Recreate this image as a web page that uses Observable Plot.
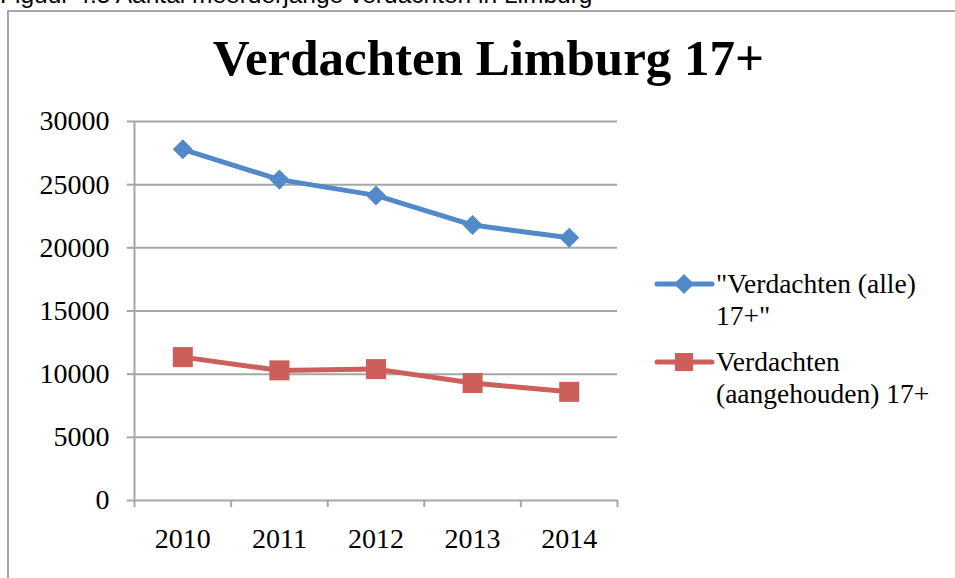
<!DOCTYPE html>
<html>
<head>
<meta charset="utf-8">
<script src="https://cdn.jsdelivr.net/npm/d3@7"></script>
<script src="https://cdn.jsdelivr.net/npm/@observablehq/plot@0.6"></script>
<style>
  html, body { margin: 0; padding: 0; background: #fff; overflow: hidden; }
  #wrap { position: relative; width: 955px; height: 578px; overflow: hidden; font-family: "Liberation Serif", serif; }
  #caption { position: absolute; left: 0; top: -19px; font-family: "Liberation Sans", sans-serif; font-size: 24.5px; color: #000; white-space: nowrap; }
  #frame { position: absolute; left: 7px; top: 10px; width: 1200px; height: 1200px; border: 2px solid #a6a6a6; box-sizing: border-box; }
  #title { position: absolute; left: 0; width: 977px; top: 29px; text-align: center; font-weight: bold; font-size: 51px; color: #000; white-space: nowrap; }
  #chart { position: absolute; left: 0; top: 0; }
  .leg { position: absolute; left: 655px; font-size: 27.5px; line-height: 32px; color: #000; }
  .leg svg { position: absolute; left: 0; top: 0; overflow: visible; }
  .leg div { position: absolute; left: 61px; top: 0; white-space: nowrap; }
</style>
</head>
<body>
<div id="wrap">
  <div id="caption">Figuur 4.5 Aantal meerderjarige verdachten in Limburg</div>
  <div id="frame"></div>
  <div id="chart"></div>
  <div id="title">Verdachten Limburg 17+</div>
  <div id="legend"></div>
</div>
<script>
const years = [2010, 2011, 2012, 2013, 2014];
const yearLabels = ["2010", "2011", "2012", "2013", "2014"];
const seriesNames = ["\"Verdachten (alle)\n17+\"", "Verdachten\n(aangehouden) 17+"];
const alle = [27800, 25400, 24150, 21800, 20800];
const aangehouden = [11350, 10300, 10400, 9300, 8600];
const yTicks = [0, 5000, 10000, 15000, 20000, 25000, 30000];
const colors = ["#5289c8", "#cc5f5a"];

const bandEdges = [years[0] - 0.5, ...years.map(y => y + 0.5)];
const alleData = years.map((yr, i) => ({year: yr, value: alle[i]}));
const aangData = years.map((yr, i) => ({year: yr, value: aangehouden[i]}));

// square diamond symbol (half-diagonal = sqrt(size)/2)
const diamondSym = {
  draw(context, size) {
    const r = Math.sqrt(size) / 2;
    context.moveTo(0, -r);
    context.lineTo(r, 0);
    context.lineTo(0, r);
    context.lineTo(-r, 0);
    context.closePath();
  }
};

const chart = Plot.plot({
  width: 955,
  height: 578,
  marginLeft: 134,
  marginRight: 338,
  marginTop: 121,
  marginBottom: 78,
  style: {fontFamily: "Liberation Serif, serif", fontSize: "28px", color: "#000", background: "transparent", overflow: "visible"},
  x: {domain: [bandEdges[0], bandEdges[bandEdges.length - 1]], label: null},
  y: {domain: [0, 30000], label: null},
  marks: [
    Plot.ruleY(yTicks, {stroke: "#a6a6a6", strokeWidth: 2}),
    Plot.ruleY(yTicks, {x1: bandEdges[0] - 0.075, x2: bandEdges[0], stroke: "#a6a6a6", strokeWidth: 2}),
    Plot.ruleX(bandEdges, {y1: 0, y2: -560, stroke: "#a6a6a6", strokeWidth: 2}),
    Plot.ruleX([bandEdges[0]], {y1: 0, y2: 30000, stroke: "#a6a6a6", strokeWidth: 2}),
    Plot.axisY({ticks: yTicks, tickSize: 0, tickPadding: 25, tickFormat: d => String(d), fontSize: 28, fill: "#000", label: null}),
    Plot.axisX({ticks: years, tickSize: 0, tickPadding: 28, tickFormat: (d, i) => yearLabels[i], fontSize: 28, fill: "#000", label: null}),
    Plot.line(alleData, {x: "year", y: "value", stroke: colors[0], strokeWidth: 5}),
    Plot.line(aangData, {x: "year", y: "value", stroke: colors[1], strokeWidth: 5}),
    Plot.dot(alleData, {x: "year", y: "value", fill: colors[0], symbol: diamondSym, r: 11.3, stroke: "none"}),
    Plot.dot(aangData, {x: "year", y: "value", fill: colors[1], symbol: "square", r: 11.3, stroke: "none"})
  ]
});
document.getElementById("chart").appendChild(chart);

// legend
const legend = document.getElementById("legend");
const legTops = [268, 346];
const legSizes = [9, 9];
seriesNames.forEach((name, i) => {
  const item = document.createElement("div");
  item.className = "leg";
  item.style.top = legTops[i] + "px";
  const lines = name.split("\n");
  const cy = 16;
  const s = legSizes[i];
  const marker = i === 0
    ? `<polygon points="29,${cy - s - 1} ${29 + s + 1},${cy} 29,${cy + s + 1} ${29 - s - 1},${cy}" fill="${colors[i]}"/>`
    : `<rect x="${29 - s}" y="${cy - s}" width="${2 * s}" height="${2 * s}" fill="${colors[i]}"/>`;
  item.innerHTML = `<svg width="60" height="32"><line x1="2" x2="57" y1="${cy}" y2="${cy}" stroke="${colors[i]}" stroke-width="5" stroke-linecap="round"/>${marker}</svg>` +
    `<div>${lines.map(l => l.replace(/&/g, "&amp;").replace(/</g, "&lt;")).join("<br>")}</div>`;
  legend.appendChild(item);
});
</script>
</body>
</html>
